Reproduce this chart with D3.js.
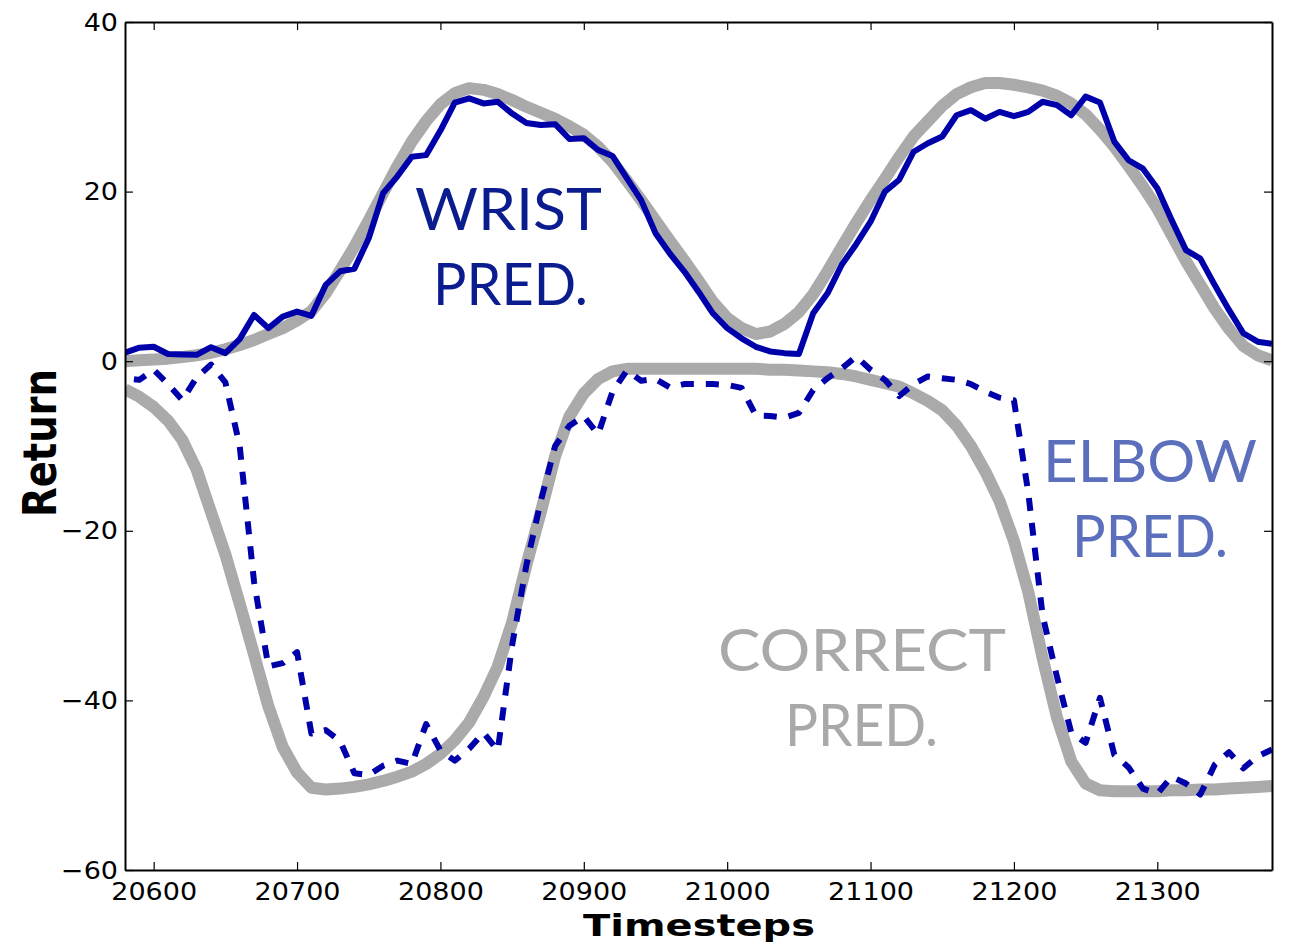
<!DOCTYPE html>
<html>
<head>
<meta charset="utf-8">
<script src="https://cdn.jsdelivr.net/npm/d3@7"></script>
<style>
  html, body { margin: 0; padding: 0; background: #ffffff; }
  svg { display: block; }
</style>
</head>
<body>
<svg id="chart" width="1290" height="950"></svg>
<script>
// ---------------- data ----------------
const tStart = 20580;
const tStep = 10;

const wristPred = [
  1.0, 1.6, 1.7, 0.85, 0.8, 0.75, 1.65, 0.95, 2.6, 5.45,
  3.9, 5.25, 5.85, 5.35, 9.0, 10.6, 10.9, 14.5, 19.8, 21.8,
  24.1, 24.3, 27.2, 30.5, 31.0, 30.4, 30.6, 29.2, 28.1, 27.85,
  27.95, 26.2, 26.3, 24.9, 24.2, 21.6, 19.0, 15.1, 12.7, 10.6,
  8.2, 5.65, 3.9, 2.7, 1.7, 1.15, 0.95, 0.85, 5.65, 8.0,
  11.4, 13.8, 16.45, 20.0, 21.4, 24.7, 25.7, 26.5, 29.0, 29.6,
  28.6, 29.4, 28.9, 29.4, 30.6, 30.2, 29.0, 31.2, 30.5, 25.9,
  23.7, 22.7, 20.4, 16.65, 13.1, 12.1, 9.0, 6.05, 3.3, 2.3,
  2.05
];

const wristCorrect = [
  0.0, 0.1, 0.2, 0.3, 0.5, 0.7, 1.0, 1.4, 1.9, 2.5,
  3.2, 3.9, 4.8, 5.9, 8.0, 10.7, 13.5, 16.6, 19.8, 23.0,
  25.9, 28.3, 30.3, 31.6, 32.2, 32.0, 31.5, 30.8, 30.0, 29.3,
  28.6, 27.7, 26.7, 25.3, 23.5, 21.3, 19.0, 16.6, 14.2, 11.9,
  9.5, 7.0, 5.1, 3.9, 3.2, 3.5, 4.4, 5.8, 7.9, 10.6,
  13.5, 16.3, 19.0, 21.5, 24.1, 26.5, 28.3, 30.1, 31.5, 32.3,
  32.8, 32.8, 32.6, 32.3, 31.9, 31.3, 30.4, 29.1, 27.3, 25.3,
  23.0, 20.6, 18.0, 14.9, 11.8, 9.0, 6.2, 3.8, 1.8, 0.7,
  0.1
];

const elbowCorrect = [
  -3.3, -4.2, -5.4, -7.0, -9.3, -12.8, -17.8, -22.8, -28.6, -34.6,
  -40.7, -45.5, -48.5, -50.3, -50.5, -50.4, -50.2, -49.9, -49.5, -49.0,
  -48.4, -47.5, -46.3, -44.7, -42.6, -39.6, -36.0, -30.8, -24.0, -17.8,
  -11.2, -6.5, -3.8, -2.1, -1.2, -0.9, -0.9, -0.9, -0.9, -0.9,
  -0.9, -0.9, -0.9, -0.9, -0.9, -1.0, -1.0, -1.1, -1.2, -1.3,
  -1.5, -1.8, -2.2, -2.6, -3.0, -3.8, -4.7, -5.8, -7.6, -10.0,
  -13.0, -16.5, -21.2, -27.2, -35.0, -42.0, -47.2, -49.8, -50.6, -50.7,
  -50.7, -50.7, -50.7, -50.6, -50.6, -50.5, -50.5, -50.4, -50.3, -50.2,
  -50.1
];

const elbowPred = [
  -2.0, -2.2, -1.0, -2.7, -4.6, -1.9, -0.4, -2.5, -10.0, -26.0,
  -36.0, -35.6, -34.3, -43.9, -43.5, -44.8, -48.6, -48.8, -47.7, -47.1,
  -47.5, -42.8, -45.9, -47.1, -45.7, -43.8, -45.9, -33.5, -24.0, -16.5,
  -10.0, -7.6, -6.5, -8.6, -3.6, -1.1, -2.3, -2.1, -3.1, -2.7,
  -2.7, -2.7, -2.8, -3.15, -6.4, -6.45, -6.65, -6.1, -3.4, -2.0,
  -0.84, 0.55, -1.0, -2.2, -4.1, -2.7, -1.8, -2.0, -2.2, -2.7,
  -3.6, -4.3, -4.6, -15.5, -30.0, -37.2, -43.8, -45.0, -39.7, -46.4,
  -47.9, -50.4, -51.0, -49.0, -49.8, -51.1, -47.6, -46.1, -48.0, -46.6,
  -45.8
];

const xTickValues = [20600, 20700, 20800, 20900, 21000, 21100, 21200, 21300];
const yTickValues = [-60, -40, -20, 0, 20, 40];
const xDomain = [20580, 21380];
const yDomain = [-60, 40];

const annotations = [
  { lines: ["WRIST", "PRED."], color: "#0b1d8e" },
  { lines: ["ELBOW", "PRED."], color: "#5b6fbd" },
  { lines: ["CORRECT", "PRED."], color: "#a9a9a9" }
];

// ---------------- layout ----------------
const L = 125, R = 1272, T = 22, B = 870;
const svg = d3.select("#chart");

const x = d3.scaleLinear().domain(xDomain).range([L, R]);
const y = d3.scaleLinear().domain(yDomain).range([B, T]);

const ts = wristPred.map((_, i) => tStart + i * tStep);

svg.append("defs").append("clipPath").attr("id", "plotclip")
  .append("rect").attr("x", L).attr("y", T).attr("width", R - L).attr("height", B - T);

const plot = svg.append("g").attr("clip-path", "url(#plotclip)");

const line = d3.line().x(d => x(d[0])).y(d => y(d[1]));
const pairs = arr => arr.map((v, i) => [ts[i], v]);

plot.append("path").datum(pairs(wristCorrect)).attr("d", line)
  .attr("fill", "none").attr("stroke", "#aaaaaa").attr("stroke-width", 12)
  .attr("stroke-linejoin", "round");
plot.append("path").datum(pairs(elbowCorrect)).attr("d", line)
  .attr("fill", "none").attr("stroke", "#aaaaaa").attr("stroke-width", 12)
  .attr("stroke-linejoin", "round");
plot.append("path").datum(pairs(wristPred)).attr("d", line)
  .attr("fill", "none").attr("stroke", "#0000aa").attr("stroke-width", 6)
  .attr("stroke-linejoin", "round");
plot.append("path").datum(pairs(elbowPred)).attr("d", line)
  .attr("fill", "none").attr("stroke", "#0000aa").attr("stroke-width", 6)
  .attr("stroke-dasharray", "13,12").attr("stroke-dashoffset", 16)
  .attr("stroke-linejoin", "round");

// ---------------- axes ----------------
const tickFont = "'DejaVu Sans', sans-serif";
function styleAxis(g) {
  g.select(".domain").attr("stroke", "#000").attr("stroke-width", 2);
  g.selectAll(".tick line").attr("stroke", "#000").attr("stroke-width", 1.2);
  g.selectAll(".tick text").attr("fill", "#000")
    .style("font-family", tickFont).style("font-size", "25px")
    .each(function () {
      const w = this.getComputedTextLength();
      if (w > 0) {
        d3.select(this).attr("textLength", w * 1.08).attr("lengthAdjust", "spacingAndGlyphs");
      }
    });
}

svg.append("g").attr("transform", `translate(0,${B})`)
  .call(d3.axisBottom(x).tickValues(xTickValues).tickFormat(d3.format("d"))
    .tickSize(-8).tickSizeOuter(0).tickPadding(12.5))
  .call(styleAxis);
svg.append("g").attr("transform", `translate(0,${T})`)
  .call(d3.axisTop(x).tickValues(xTickValues).tickFormat(() => "")
    .tickSize(-8).tickSizeOuter(0))
  .call(styleAxis);
svg.append("g").attr("transform", `translate(${L},0)`)
  .call(d3.axisLeft(y).tickValues(yTickValues).tickFormat(d3.format("d"))
    .tickSize(-8).tickSizeOuter(0).tickPadding(7))
  .call(styleAxis);
svg.append("g").attr("transform", `translate(${R},0)`)
  .call(d3.axisRight(y).tickValues(yTickValues).tickFormat(() => "")
    .tickSize(-8).tickSizeOuter(0))
  .call(styleAxis);

// axis titles
svg.append("text").text("Timesteps")
  .attr("x", 699).attr("y", 936).attr("text-anchor", "middle")
  .attr("textLength", 232).attr("lengthAdjust", "spacingAndGlyphs")
  .style("font-family", tickFont).style("font-weight", "bold").style("font-size", "31px")
  .attr("fill", "#000");
svg.append("text").text("Return")
  .attr("transform", "translate(56,443) scale(1.45,1) rotate(-90)").attr("text-anchor", "middle")
  .attr("textLength", 148).attr("lengthAdjust", "spacingAndGlyphs")
  .style("font-family", tickFont).style("font-weight", "bold").style("font-size", "32px")
  .attr("fill", "#000");

// ---------------- annotations ----------------
const annoFont = "Lato, 'Open Sans', sans-serif";
const annoBoxes = [
  [{ x: 415, y: 230, w: 187 }, { x: 433, y: 305, w: 155 }],
  [{ x: 1043, y: 482, w: 214 }, { x: 1072, y: 557, w: 156 }],
  [{ x: 718, y: 671, w: 288 }, { x: 785, y: 746, w: 153 }]
];
annotations.forEach((a, i) => {
  a.lines.forEach((t, j) => {
    const b = annoBoxes[i][j];
    svg.append("text").text(t)
      .attr("x", b.x).attr("y", b.y)
      .attr("textLength", b.w).attr("lengthAdjust", "spacingAndGlyphs")
      .style("font-family", annoFont).style("font-size", "59px")
      .attr("fill", a.color);
  });
});
</script>
</body>
</html>
